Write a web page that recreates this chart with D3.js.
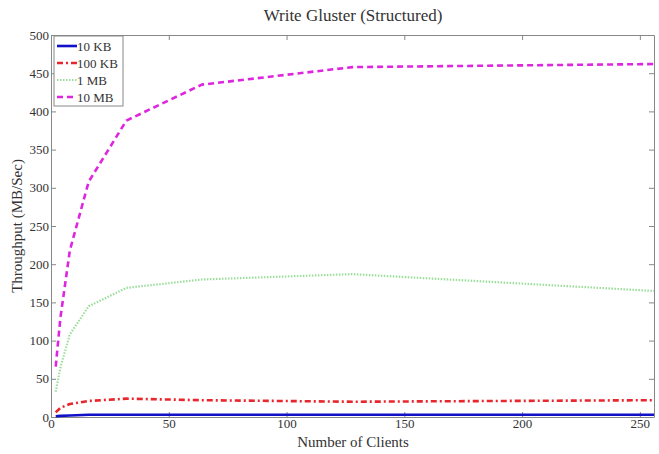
<!DOCTYPE html>
<html>
<head>
<meta charset="utf-8">
<script src="https://cdn.jsdelivr.net/npm/d3@7/dist/d3.min.js"></script>
<style>
  html, body { margin: 0; padding: 0; background: #fff; }
  svg { display: block; font-family: "Liberation Serif", "Times New Roman", serif; }
</style>
</head>
<body>
<div id="chart"></div>
<script>
// Client counts (x) and measured write throughput per file size (MB/Sec)
const clients = [2, 4, 8, 16, 32, 64, 128, 256];
const seriesNames = ["10 KB", "100 KB", "1 MB", "10 MB"];
const tp10KB  = [1, 1.5, 2, 3, 3, 3, 3, 3];
const tp100KB = [6, 12, 17, 21, 24, 22, 20, 22];
const tp1MB   = [33, 65, 108, 145, 169, 180, 187, 165];
const tp10MB  = [66, 130, 218, 308, 388, 435, 458, 462];
const xTicks = [0, 50, 100, 150, 200, 250];
const yTicks = [0, 50, 100, 150, 200, 250, 300, 350, 400, 450, 500];

const W = 659, H = 454;
const m = { left: 51, right: 5, top: 35, bottom: 37 };

const styles = [
  { color: "#1010c8", width: 2.6, dash: null },
  { color: "#e8262c", width: 2.6, dash: "6,3,2,3" },
  { color: "#9ade9a", width: 2.2, dash: "1.5,1.5" },
  { color: "#de26de", width: 2.6, dash: "6,4" }
];
const values = [tp10KB, tp100KB, tp1MB, tp10MB];

const svg = d3.select("#chart").append("svg").attr("width", W).attr("height", H);

const x = d3.scaleLinear().domain([0, 256]).range([m.left, W - m.right]);
const y = d3.scaleLinear().domain([0, 500]).range([H - m.bottom, m.top]);

const axisColor = "#888";
const textColor = "#333";

// Title
svg.append("text")
  .attr("x", 353).attr("y", 21)
  .attr("text-anchor", "middle")
  .attr("font-size", 17)
  .attr("fill", textColor)
  .text("Write Gluster (Structured)");

// Axes with inward ticks on all four sides
function styleAxis(g) {
  g.select(".domain").attr("stroke", axisColor);
  g.selectAll(".tick line").attr("stroke", axisColor);
  g.selectAll(".tick text").attr("fill", textColor).attr("font-size", 13)
    .attr("font-family", "Liberation Serif, serif");
}

svg.append("g")
  .attr("transform", `translate(0,${H - m.bottom})`)
  .call(d3.axisBottom(x).tickValues(xTicks).tickSizeInner(-5).tickSizeOuter(0).tickPadding(2))
  .call(styleAxis);

svg.append("g")
  .attr("transform", `translate(0,${m.top})`)
  .call(d3.axisTop(x).tickValues(xTicks).tickSizeInner(-5).tickSizeOuter(0).tickFormat(""))
  .call(styleAxis);

svg.append("g")
  .attr("transform", `translate(${m.left},0)`)
  .call(d3.axisLeft(y).tickValues(yTicks).tickSizeInner(-5).tickSizeOuter(0).tickPadding(2))
  .call(styleAxis);

svg.append("g")
  .attr("transform", `translate(${W - m.right},0)`)
  .call(d3.axisRight(y).tickValues(yTicks).tickSizeInner(-5).tickSizeOuter(0).tickFormat(""))
  .call(styleAxis);

// Axis titles
svg.append("text")
  .attr("x", 353).attr("y", 447)
  .attr("text-anchor", "middle")
  .attr("font-size", 15)
  .attr("fill", textColor)
  .text("Number of Clients");

svg.append("text")
  .attr("transform", `translate(22,${(m.top + H - m.bottom) / 2}) rotate(-90)`)
  .attr("text-anchor", "middle")
  .attr("font-size", 15)
  .attr("fill", textColor)
  .text("Throughput (MB/Sec)");

// Series lines
const line = d3.line().x((d, i) => x(clients[i])).y(d => y(d));

values.forEach((vals, i) => {
  const s = styles[i];
  svg.append("path")
    .datum(vals)
    .attr("fill", "none")
    .attr("stroke", s.color)
    .attr("stroke-width", s.width)
    .attr("stroke-dasharray", s.dash)
    .attr("stroke-linejoin", "round")
    .attr("d", line);
});

// Legend
const lg = svg.append("g").attr("transform", "translate(54,36)");
lg.append("rect")
  .attr("width", 69).attr("height", 70)
  .attr("fill", "#fff")
  .attr("stroke", axisColor);
seriesNames.forEach((name, i) => {
  const s = styles[i];
  const cy = 10 + i * 17;
  lg.append("line")
    .attr("x1", 3).attr("x2", 23)
    .attr("y1", cy).attr("y2", cy)
    .attr("stroke", s.color)
    .attr("stroke-width", s.width)
    .attr("stroke-dasharray", s.dash);
  lg.append("text")
    .attr("x", 23).attr("y", cy + 4.5)
    .attr("font-size", 13)
    .attr("fill", textColor)
    .text(name);
});
</script>
</body>
</html>
